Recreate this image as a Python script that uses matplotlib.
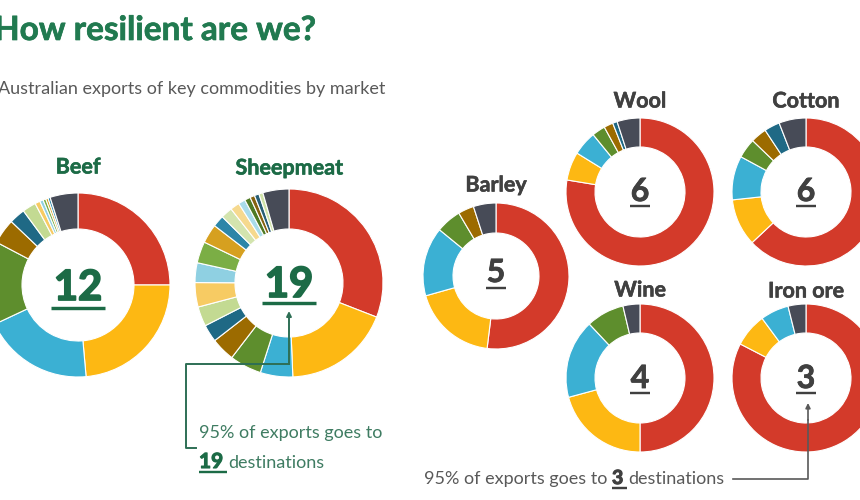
import matplotlib
matplotlib.use("Agg")
import matplotlib.pyplot as plt
import matplotlib.patheffects as pe

plt.rcParams['font.family'] = ['Lato', 'DejaVu Sans']

# ---------------- data ----------------
title = "How resilient are we?"
subtitle = "Australian exports of key commodities by market"
commodities = ["Beef", "Sheepmeat", "Barley", "Wool", "Cotton", "Wine", "Iron ore"]
destinations = [12, 19, 5, 6, 6, 4, 3]

# market shares (%) of the top destinations, clockwise from 12 o'clock
beef_shares = [25.0, 23.6, 19.4, 14.7, 4.4, 2.8, 2.4, 0.9, 0.6, 0.5, 0.4, 0.4]
sheepmeat_shares = [31.0, 18.5, 5.6, 5.5, 4.1, 3.0, 3.4, 4.2, 3.4, 3.7,
                    3.3, 2.0, 2.0, 1.6, 1.2, 1.0, 0.8, 0.8, 0.7]
barley_shares = [52.0, 18.7, 15.3, 5.6, 3.5]
wool_shares = [77.6, 6.2, 5.3, 2.9, 2.0, 1.0]
cotton_shares = [63.0, 10.3, 9.6, 4.3, 3.5, 3.4]
wine_shares = [50.0, 20.8, 17.2, 8.3]
ironore_shares = [82.6, 7.3, 6.2]
# remaining share (other markets)
other_shares = [4.9, 4.5, 5.0, 5.0, 5.9, 3.7, 3.9]

note_prefix = "95% of exports goes to"
note_suffix = "destinations"
note_left_count = 19
note_right_count = 3

# ---------------- styles ----------------
share_lists = [beef_shares, sheepmeat_shares, barley_shares, wool_shares,
               cotton_shares, wine_shares, ironore_shares]

palette = ["#D33A2A", "#FDB813", "#3BB0D3", "#5E8E2D", "#9C6B00", "#1F6985",
           "#C3DA92", "#F7CB63", "#8FD0E2", "#7BAE45", "#D6A020", "#2C86A8",
           "#D3E4AE", "#F6D98E", "#A9DCEA", "#4E7A24", "#85620F", "#275E75",
           "#CFE2A8"]
other_color = "#474B57"

title_green = "#217A50"
num_green = "#1C6B46"
note_green = "#3F7C62"
line_green = "#2E6F55"
dark_grey = "#404040"
mid_grey = "#595959"

# center (px), outer radius, inner radius, label y, number baseline, underline y
layout = {
    "Beef":      dict(c=(78, 285), R=92, r=56, ly=167, nb=300, uy=308, big=True),
    "Sheepmeat": dict(c=(289, 283), R=94, r=54, ly=168, nb=297, uy=303, big=True),
    "Barley":    dict(c=(496, 276), R=73, r=43, ly=185, nb=282, uy=288, big=False),
    "Wool":      dict(c=(640, 192), R=74, r=45, ly=101, nb=201, uy=206, big=False),
    "Cotton":    dict(c=(806, 192), R=74, r=45, ly=101, nb=201, uy=206, big=False),
    "Wine":      dict(c=(640, 378), R=74, r=45, ly=290, nb=388, uy=393, big=False),
    "Iron ore":  dict(c=(806, 378), R=74, r=45, ly=291, nb=388, uy=393, big=False),
}

fig = plt.figure(figsize=(8.6, 5.0), dpi=100)
fig.patch.set_facecolor("white")
ax = fig.add_axes([0, 0, 1, 1])

for name, shares, other in zip(commodities, share_lists, other_shares):
    st = layout[name]
    vals = list(shares) + [other]
    cols = palette[:len(shares)] + [other_color]
    ax.pie(vals, colors=cols, center=st["c"], radius=st["R"],
           startangle=-90, counterclock=True,
           wedgeprops=dict(width=st["R"] - st["r"], edgecolor="white",
                           linewidth=0.8))

ax.set_xlim(0, 860)
ax.set_ylim(500, 0)
ax.set_aspect("equal")
ax.axis("off")

fig.canvas.draw()
renderer = fig.canvas.get_renderer()


def text_width(t):
    bb = t.get_window_extent(renderer)
    return bb.width


def embolden(col, w):
    return [pe.withStroke(linewidth=w, foreground=col)]


PT = 72 / 100.0  # points per pixel

# titles
ax.text(-6, 40, title, fontsize=24, fontweight="bold", color=title_green,
        ha="left", va="baseline", path_effects=embolden(title_green, 0.5))
ax.text(-2, 94, subtitle, fontsize=13, color=mid_grey,
        ha="left", va="baseline")

# labels and centre numbers
for name, n in zip(commodities, destinations):
    st = layout[name]
    cx, cy = st["c"]
    big = st["big"]
    col = num_green if big else dark_grey
    ax.text(cx, st["ly"], name, fontsize=15.5, fontweight="bold",
            color=col, ha="center", va="center",
            path_effects=embolden(col, 0.4))
    t = ax.text(cx, st["nb"], str(n), fontsize=30 if big else 23,
                fontweight="bold", color=col, ha="center", va="baseline",
                path_effects=embolden(col, 1.3 if big else 0.6))
    w = text_width(t)
    pad = 3 if big else 1
    ax.plot([cx - w / 2 - pad, cx + w / 2 + pad], [st["uy"], st["uy"]],
            color=col, lw=(3.4 if big else 2.4) * PT, solid_capstyle="butt")


def rich_line(x, y, parts, size):
    """parts: list of (text, bold, colour, size). Draws left-to-right."""
    spans = []
    probe = ax.text(0, 0, "a a", fontsize=size)
    probe2 = ax.text(0, 0, "aa", fontsize=size)
    space = text_width(probe) - text_width(probe2)
    probe.remove()
    probe2.remove()
    for s, bold, col, fs in parts:
        t = ax.text(x, y, s, fontsize=fs, color=col,
                    fontweight="bold" if bold else "normal",
                    ha="left", va="baseline",
                    path_effects=embolden(col, 0.8) if bold else None)
        w = text_width(t)
        spans.append((x, x + w))
        x += w + space
    return spans, space


# left annotation (Sheepmeat)
sx, _ = layout["Sheepmeat"]["c"]
ax.plot([sx, 186, 186, 196], [364, 364, 448, 448], color=line_green, lw=1.4)
ax.annotate("", xy=(sx, 311), xytext=(sx, 364),
            arrowprops=dict(arrowstyle="-|>", color=line_green, lw=1.4,
                            mutation_scale=7, shrinkA=0, shrinkB=0))
ax.text(199, 438, note_prefix, fontsize=13, color=note_green,
        ha="left", va="baseline")
spans, sp = rich_line(199, 468, [(str(note_left_count), True, num_green, 15),
                                 (note_suffix, False, note_green, 13)], 13)
ax.plot([spans[0][0], spans[0][1] + sp * 0.8], [472, 472], color=num_green,
        lw=2.4 * PT, solid_capstyle="butt")

# right annotation (Iron ore)
spans2, sp2 = rich_line(424, 484, [(note_prefix, False, mid_grey, 13),
                                   (str(note_right_count), True, dark_grey, 14),
                                   (note_suffix, False, mid_grey, 13)], 13)
ax.plot([spans2[1][0], spans2[1][1] + sp2 * 0.8], [488, 488], color=dark_grey,
        lw=2.4 * PT, solid_capstyle="butt")
ix, _ = layout["Iron ore"]["c"]
ax.plot([733, ix + 2, ix + 2], [479, 479, 420], color=mid_grey, lw=1.2)
ax.annotate("", xy=(ix + 2, 403), xytext=(ix + 2, 420),
            arrowprops=dict(arrowstyle="-|>", color=mid_grey, lw=1.2,
                            mutation_scale=7, shrinkA=0, shrinkB=0))

fig.savefig("out.png", dpi=100, facecolor="white")
